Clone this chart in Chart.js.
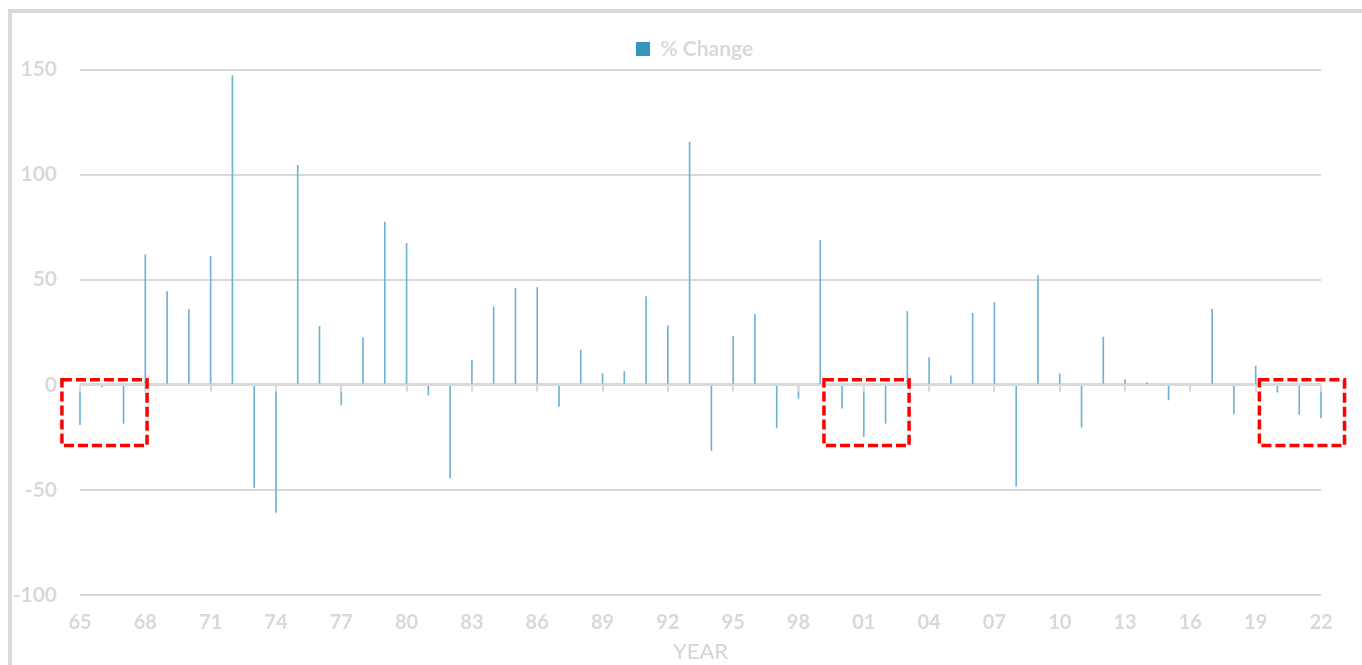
<!DOCTYPE html>
<html>
<head>
<meta charset="utf-8">
<title>% Change by Year</title>
<script src="https://cdn.jsdelivr.net/npm/chart.js@4.4.1/dist/chart.umd.min.js"></script>
<style>
  html, body { margin: 0; padding: 0; background: #ffffff; overflow: hidden; }
  #wrap { position: relative; width: 1362px; height: 665px; }
  #frame {
    position: absolute; left: 8px; top: 9px; width: 1420px; height: 720px;
    border: 4px solid #d9d9d9; box-sizing: border-box;
  }
  #chart { position: absolute; left: 0; top: 0; }
</style>
</head>
<body>
<div id="wrap">
  <div id="frame"></div>
  <canvas id="chart" width="1362" height="665"></canvas>
</div>
<script>
// Two-digit years, 1965 through 2022
const years = [
  '65','66','67','68','69','70','71','72','73','74',
  '75','76','77','78','79','80','81','82','83','84',
  '85','86','87','88','89','90','91','92','93','94',
  '95','96','97','98','99','00','01','02','03','04',
  '05','06','07','08','09','10','11','12','13','14',
  '15','16','17','18','19','20','21','22'
];

// Year-over-year % change
const pctChange = [
  -19.0,  -1.0, -18.3,  61.9,  44.4,  35.9,  61.1, 147.1, -48.8, -60.7,
  104.4,  27.8,  -9.5,  22.4,  77.4,  67.3,  -4.8, -44.3,  11.6,  37.1,
   45.9,  46.3, -10.3,  16.5,   5.4,   6.3,  42.0,  28.1, 115.5, -31.3,
   23.0,  33.5, -20.5,  -6.4,  68.7, -11.1, -24.6, -18.3,  34.9,  13.0,
    4.3,  34.0,  39.2, -48.3,  52.0,   5.2, -20.2,  22.7,   2.5,   1.1,
   -7.2,  -1.0,  35.9, -13.8,   8.9,  -3.5, -14.1, -15.7
];

// Value axis ticks
const yTicks = [-100, -50, 0, 50, 100, 150];

// Runs of years outlined with a dashed box (first year, last year)
const highlightSpans = [['65', '67'], ['00', '02'], ['20', '22']];

const GRID = '#d9d9d9';
const TEXT = '#d9d9d9';
const SERIES = '#3596c0';
const BAR = '#6fb2d3';

// Small tick marks under the zero line at every labelled year
const zeroTicks = {
  id: 'zeroTicks',
  afterDatasetsDraw(chart) {
    const { ctx, scales: { x, y } } = chart;
    const y0 = y.getPixelForValue(0);
    ctx.save();
    ctx.strokeStyle = GRID;
    ctx.lineWidth = 2;
    years.forEach((yr, i) => {
      if (i % 3 !== 0) return;
      const px = Math.round(x.getPixelForValue(i));
      ctx.beginPath();
      ctx.moveTo(px, y0);
      ctx.lineTo(px, y0 + 7);
      ctx.stroke();
    });
    ctx.restore();
  }
};

// Dashed red boxes around the highlighted runs of years
const spanBoxes = {
  id: 'spanBoxes',
  afterDraw(chart) {
    const { ctx, scales: { x, y } } = chart;
    ctx.save();
    ctx.strokeStyle = '#ff0000';
    ctx.lineWidth = 3.5;
    ctx.setLineDash([10, 4]);
    highlightSpans.forEach(([a, b]) => {
      const i0 = years.indexOf(a), i1 = years.indexOf(b);
      const left = x.getPixelForValue(i0 - 0.83);
      const right = x.getPixelForValue(i1 + 1.08);
      const top = y.getPixelForValue(2.4);
      const bottom = y.getPixelForValue(-28.9);
      ctx.strokeRect(left, top, right - left, bottom - top);
    });
    ctx.restore();
  }
};

// Place the legend row a little left of the plot centre
const legendPlace = {
  id: 'legendPlace',
  afterLayout(chart) {
    const lg = chart.legend;
    if (!lg) return;
    const pad = lg.options.labels.padding;
    const w = lg.right - lg.left;
    lg.left = 636 - pad;
    lg.right = lg.left + w;
  }
};

new Chart(document.getElementById('chart'), {
  type: 'bar',
  data: {
    labels: years,
    datasets: [{
      label: '% Change',
      data: pctChange,
      backgroundColor: BAR,
      borderWidth: 0,
      barThickness: 1,
      clip: false
    }]
  },
  plugins: [zeroTicks, spanBoxes, legendPlace],
  options: {
    responsive: false,
    animation: false,
    devicePixelRatio: 1,
    layout: { padding: { top: 28.5, right: 41, bottom: 0, left: 0 } },
    plugins: {
      legend: {
        position: 'top',
        align: 'start',
        labels: {
          boxWidth: 14,
          boxHeight: 14,
          padding: 10,
          color: TEXT,
          font: { family: 'Lato', size: 21, weight: 'bold' },
          generateLabels: (chart) => chart.data.datasets.map((ds, i) => ({
            text: ds.label,
            fillStyle: SERIES,
            strokeStyle: SERIES,
            lineWidth: 0,
            fontColor: TEXT,
            hidden: false,
            datasetIndex: i
          }))
        }
      },
      tooltip: { enabled: false }
    },
    scales: {
      x: {
        type: 'category',
        offset: false,
        grid: { display: false, drawTicks: false },
        border: { display: false },
        afterFit: (s) => { s.height = 70; },
        ticks: {
          autoSkip: false,
          maxRotation: 0,
          padding: 16,
          color: TEXT,
          font: { family: 'Lato', size: 20, weight: 'bold' },
          callback: (v, i) => (i % 3 === 0 ? years[i] : '')
        },
        title: {
          display: true,
          text: 'YEAR',
          color: '#d4d4d4',
          padding: { top: 0, bottom: 0 },
          font: { family: 'Lato', size: 22, weight: 'normal' }
        }
      },
      y: {
        min: yTicks[0],
        max: yTicks[yTicks.length - 1],
        afterBuildTicks: (s) => { s.ticks = yTicks.map(v => ({ value: v })); },
        afterFit: (s) => { s.width = 80; },
        grid: {
          color: GRID,
          lineWidth: (c) => (c.tick && c.tick.value === 0 ? 3 : 2),
          drawTicks: false
        },
        border: { display: false },
        ticks: {
          padding: 23,
          color: TEXT,
          font: { family: 'Lato', size: 21, weight: 'bold' }
        }
      }
    }
  }
});
</script>
</body>
</html>
